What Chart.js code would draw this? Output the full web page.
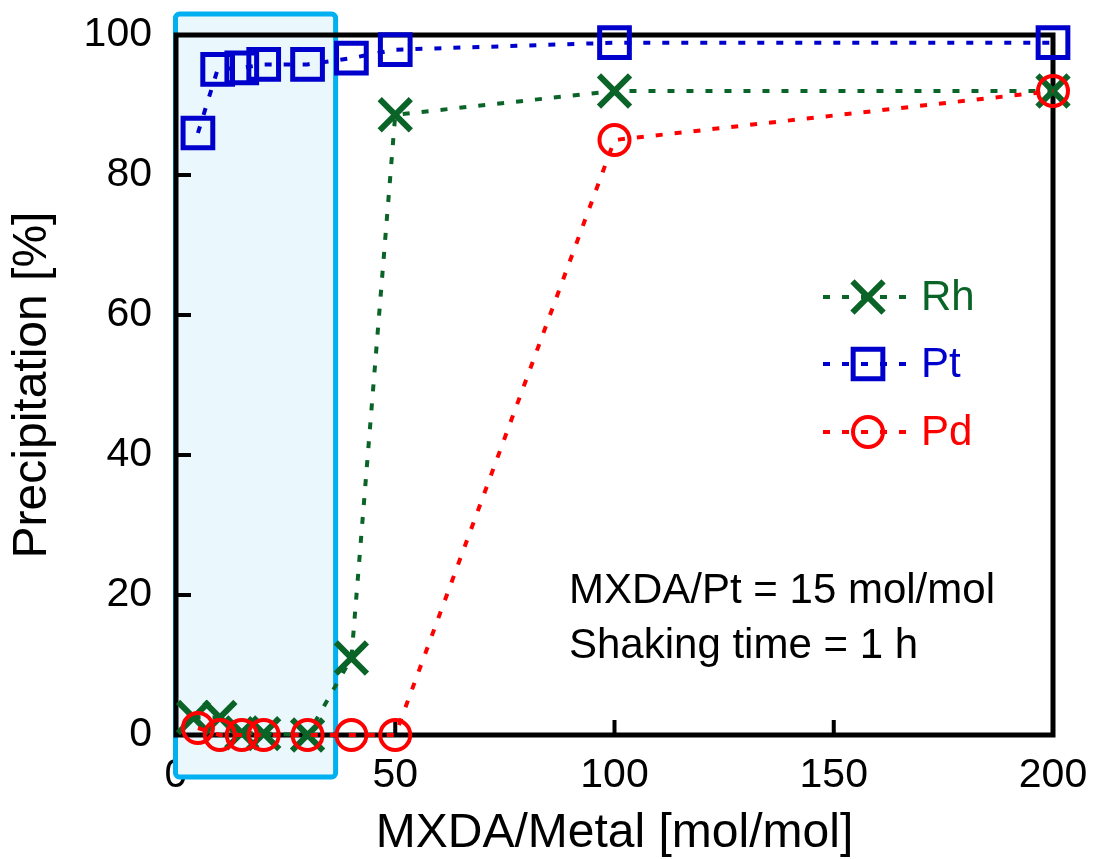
<!DOCTYPE html>
<html><head><meta charset="utf-8">
<script src="https://cdn.jsdelivr.net/npm/chart.js@4.4.0/dist/chart.umd.min.js"></script>
<style>html,body{margin:0;padding:0;background:#fff}#wrap{width:1095px;height:859px}</style>
</head><body><div id="wrap"><canvas id="c" width="1095" height="859"></canvas></div>
<script>
// ---- data ----
const rhX = [4, 10, 15, 20, 30, 40, 50, 100, 200];
const rhY = [2.5, 2.5, 0.3, 0.2, 0, 11, 88.6, 92, 92];
const ptX = [5, 9.5, 15, 20, 30, 40, 50, 100, 200];
const ptY = [86, 95.1, 95.3, 95.8, 95.8, 96.7, 97.9, 98.9, 98.9];
const pdX = [5, 10, 15, 20, 30, 40, 50, 100, 200];
const pdY = [1, 0, 0, 0, 0, 0, 0, 85, 92];
const xTicks = [0, 50, 100, 150, 200];
const yTicks = [0, 20, 40, 60, 80, 100];
const seriesNames = ['Rh', 'Pt', 'Pd'];
const highlightX = [0, 36.4];
const highlightY = [-6, 103];
const noteLines = ['MXDA/Pt = 15 mol/mol', 'Shaking time = 1 h'];
const xTitle = 'MXDA/Metal [mol/mol]';
const yTitle = 'Precipitation [%]';

const FONT = "'Liberation Sans', Arial, sans-serif";
const GREEN = '#0a6428', BLUE = '#0000cc', RED = '#ff0000';

function pts(xs, ys) { return xs.map((x, i) => ({x: x, y: ys[i]})); }

const styles = [
  {color: GREEN, pointStyle: 'crossRot', radius: 22, bw: 6},
  {color: BLUE, pointStyle: 'rect', radius: 21, bw: 5},
  {color: RED, pointStyle: 'circle', radius: 15, bw: 4}
];
const seriesData = [pts(rhX, rhY), pts(ptX, ptY), pts(pdX, pdY)];

function drawMarker(ctx, st, x, y) {
  ctx.save();
  ctx.setLineDash([]);
  ctx.strokeStyle = st.color;
  ctx.lineWidth = st.bw;
  ctx.beginPath();
  if (st.pointStyle === 'rect') {
    const s = Math.SQRT1_2 * st.radius;
    ctx.rect(x - s, y - s, 2 * s, 2 * s);
  } else if (st.pointStyle === 'circle') {
    ctx.arc(x, y, st.radius, 0, Math.PI * 2);
  } else {
    const o = Math.SQRT1_2 * st.radius;
    ctx.moveTo(x - o, y - o); ctx.lineTo(x + o, y + o);
    ctx.moveTo(x + o, y - o); ctx.lineTo(x - o, y + o);
  }
  ctx.stroke();
  ctx.restore();
}

const backgroundPlugin = {
  id: 'bg',
  beforeDatasetsDraw(chart) {
    const ctx = chart.ctx, xs = chart.scales.x, ys = chart.scales.y, a = chart.chartArea;
    // highlight box
    const x0 = xs.getPixelForValue(highlightX[0]) - 0.5, x1 = xs.getPixelForValue(highlightX[1]);
    const y0 = ys.getPixelForValue(highlightY[1]), y1 = ys.getPixelForValue(highlightY[0]);
    ctx.save();
    ctx.fillStyle = '#eaf7fd';
    ctx.strokeStyle = '#00b0f0';
    ctx.lineWidth = 5;
    ctx.beginPath();
    if (ctx.roundRect) ctx.roundRect(x0, y0, x1 - x0, y1 - y0, 4); else ctx.rect(x0, y0, x1 - x0, y1 - y0);
    ctx.fill();
    ctx.stroke();
    // frame
    ctx.strokeStyle = '#000';
    ctx.lineWidth = 5;
    ctx.strokeRect(a.left, a.top, a.right - a.left, a.bottom - a.top);
    // inward ticks
    ctx.lineWidth = 4;
    ctx.beginPath();
    xTicks.forEach(v => {
      const px = xs.getPixelForValue(v);
      ctx.moveTo(px, a.bottom); ctx.lineTo(px, a.bottom - 15);
    });
    yTicks.forEach(v => {
      const py = ys.getPixelForValue(v);
      ctx.moveTo(a.left, py); ctx.lineTo(a.left + 15, py);
    });
    ctx.stroke();
    ctx.restore();
  },
  afterDraw(chart) {
    const ctx = chart.ctx;
    ctx.save();
    // annotation text
    ctx.fillStyle = '#000';
    ctx.font = '42px ' + FONT;
    ctx.textAlign = 'left';
    ctx.textBaseline = 'alphabetic';
    ctx.fillText(noteLines[0], 569, 603);
    ctx.fillText(noteLines[1], 569, 658);
    // legend
    const rows = [297, 364, 432];
    seriesNames.forEach((name, i) => {
      const st = styles[i], y = rows[i];
      ctx.strokeStyle = st.color;
      ctx.lineWidth = 4;
      ctx.setLineDash([7, 12]);
      ctx.beginPath();
      ctx.moveTo(823, y); ctx.lineTo(910, y);
      ctx.stroke();
      drawMarker(ctx, st, 868, y);
      ctx.fillStyle = st.color;
      ctx.font = '42px ' + FONT;
      ctx.textBaseline = 'middle';
      ctx.fillText(name, 921, y + 1);
    });
    ctx.restore();
  }
};

const datasets = seriesNames.map((name, i) => ({
  label: name,
  data: seriesData[i],
  showLine: true,
  borderColor: styles[i].color,
  borderWidth: 4,
  borderDash: [7, 12],
  fill: false,
  tension: 0,
  pointStyle: styles[i].pointStyle,
  pointRadius: styles[i].radius,
  pointBorderWidth: styles[i].bw,
  pointBorderColor: styles[i].color,
  pointBackgroundColor: 'rgba(0,0,0,0)',
  clip: false,
  order: 2 - i
}));

new Chart(document.getElementById('c'), {
  type: 'scatter',
  data: {datasets: datasets},
  plugins: [backgroundPlugin],
  options: {
    responsive: false,
    devicePixelRatio: 1,
    animation: false,
    events: [],
    layout: {padding: {left: 0, top: 35, right: 42, bottom: 0}},
    plugins: {legend: {display: false}, tooltip: {enabled: false}},
    scales: {
      x: {
        type: 'linear', min: 0, max: 200,
        afterBuildTicks: s => { s.ticks = xTicks.map(v => ({value: v})); },
        afterFit: s => { s.height = 124; s.paddingLeft = 0; s.paddingRight = 0; },
        grid: {display: false, drawTicks: false},
        border: {display: false},
        ticks: {color: '#000', padding: 16, font: {family: FONT, size: 41}, maxRotation: 0, autoSkip: false},
        title: {display: true, text: xTitle, color: '#000', font: {family: FONT, size: 48, lineHeight: 1}, padding: {top: 0, bottom: 1}}
      },
      y: {
        type: 'linear', min: 0, max: 100,
        afterBuildTicks: s => { s.ticks = yTicks.map(v => ({value: v})); },
        afterFit: s => { s.width = 176; s.paddingTop = 0; s.paddingBottom = 0; },
        grid: {display: false, drawTicks: false},
        border: {display: false},
        ticks: {color: '#000', padding: 24, font: {family: FONT, size: 41}, autoSkip: false},
        title: {display: true, text: yTitle, color: '#000', font: {family: FONT, size: 48, lineHeight: 1}, padding: {top: 9, bottom: 0}}
      }
    }
  }
});
</script></body></html>
